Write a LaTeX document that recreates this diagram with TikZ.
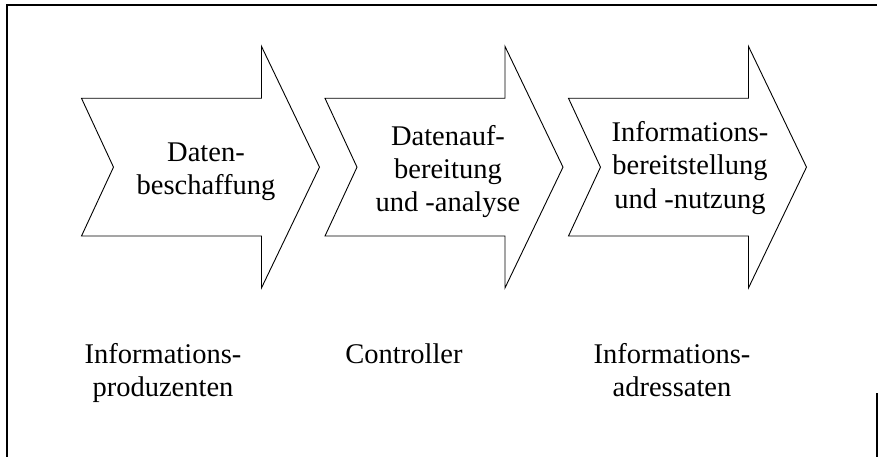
\documentclass[tikz,border=0pt]{standalone}
\usepackage{fontspec}
\setmainfont{Liberation Serif}

\begin{document}
\begin{tikzpicture}[
    x=1pt, y=-1pt,
    frameline/.style={line width=1.1pt},
    procarrow/.pic={\draw[line width=0.9pt] (0,0) -- (180,0) -- (180,-51.9) -- (238,68.85) -- (180,189.6) -- (180,137.7) -- (0,137.7) -- (32,68.85) -- cycle;},
    phase/.style={align=center, inner sep=0pt, anchor=base, font=\fontsize{28.5}{33.3}\selectfont},
    role/.style={align=center, inner sep=0pt, anchor=base, font=\fontsize{28.5}{33.3}\selectfont}
]
    \useasboundingbox (0,0) rectangle (878,457);
    \draw[frameline] (7,457) -- (7,5) -- (877,5);
    \draw[frameline] (877,393) -- (877,457);

    \pic at (81.5,98.3) {procarrow};
    \pic at (325,98.3) {procarrow};
    \pic at (568.5,98.3) {procarrow};

    \node (beschaffung) [phase] at (206,195) {Daten-\\beschaffung};
    \node (aufbereitung) [phase] at (448,211.7) {Datenauf-\\bereitung\\und -analyse};
    \node (nutzung) [phase] at (690,208.3) {Informations-\\bereitstellung\\und -nutzung};

    \node (produzenten) [role] at (163,396.6) {Informations-\\produzenten};
    \node (controller) [role] at (404,363.3) {Controller};
    \node (adressaten) [role] at (672,396.6) {Informations-\\adressaten};
\end{tikzpicture}
\end{document}
